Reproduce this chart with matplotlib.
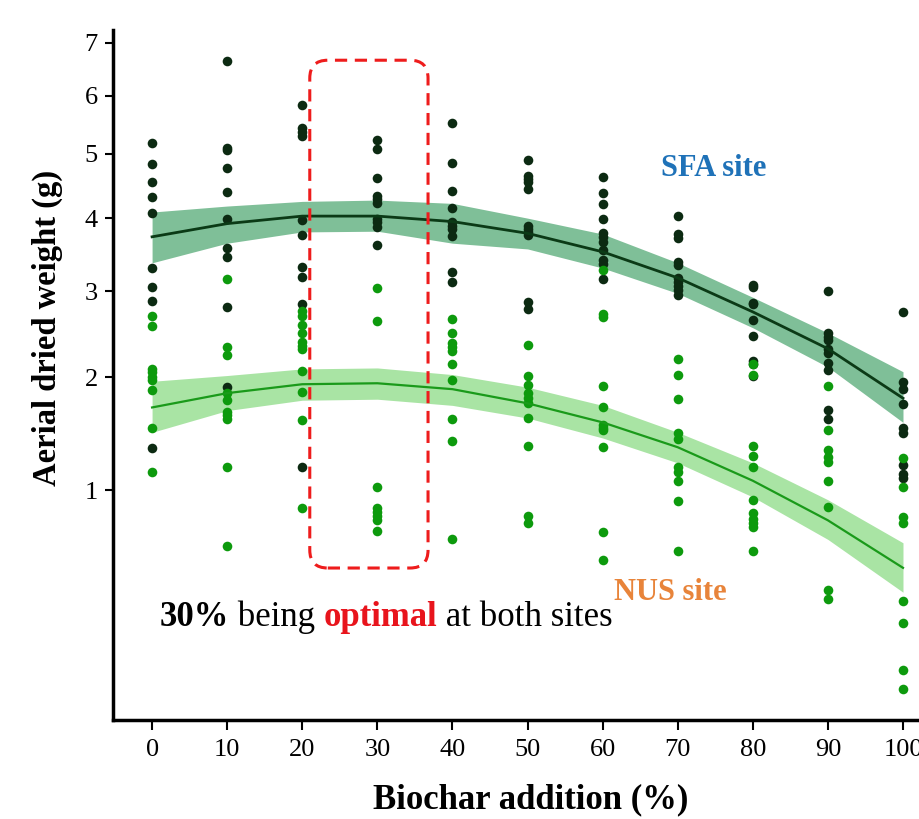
import numpy as np
import matplotlib
matplotlib.use("Agg")
import matplotlib.pyplot as plt
from matplotlib.patches import FancyBboxPatch
from matplotlib.transforms import IdentityTransform

plt.rcParams["font.family"] = ["Liberation Serif", "DejaVu Serif"]

# biochar levels (%)
levels = [0, 10, 20, 30, 40, 50, 60, 70, 80, 90, 100]

# observed dry weights (g), one list per level
sfa_pts = [
    [5.18, 4.83, 4.55, 4.31, 4.07, 3.30, 3.05, 2.88, 1.33],
    [6.64, 5.10, 5.06, 4.77, 4.39, 3.99, 3.57, 3.45, 2.80, 1.90],
    [5.83, 5.43, 5.36, 5.30, 3.97, 3.75, 3.31, 3.18, 2.84, 1.18],
    [5.23, 5.08, 4.61, 4.33, 4.28, 4.22, 3.99, 3.94, 3.87, 3.61],
    [5.52, 4.85, 4.41, 4.15, 3.94, 3.88, 3.84, 3.74, 3.25, 3.11],
    [4.90, 4.64, 4.59, 4.55, 4.44, 3.88, 3.84, 3.80, 3.75, 2.86, 2.77],
    [4.63, 4.38, 4.21, 3.99, 3.78, 3.73, 3.65, 3.54, 3.41, 3.35, 3.15],
    [4.03, 3.77, 3.71, 3.38, 3.34, 3.17, 3.11, 3.06, 3.01, 2.95],
    [3.08, 3.05, 2.85, 2.84, 2.64, 2.46, 2.17, 2.14, 2.01],
    [3.00, 2.49, 2.44, 2.41, 2.31, 2.26, 2.15, 2.08, 1.68, 1.59],
    [2.74, 1.95, 1.88, 1.73, 1.51, 1.46, 1.19, 1.12, 1.09],
]
nus_pts = [
    [2.69, 2.57, 2.09, 2.06, 2.00, 1.97, 1.87, 1.51, 1.14],
    [3.15, 2.33, 2.24, 1.84, 1.77, 1.66, 1.63, 1.59, 1.18, 0.63],
    [2.75, 2.69, 2.58, 2.49, 2.38, 2.34, 2.31, 2.07, 1.85, 1.58, 0.87],
    [3.04, 2.63, 1.02, 0.87, 0.845, 0.82, 0.79, 0.72],
    [2.66, 2.49, 2.37, 2.33, 2.29, 2.14, 1.97, 1.59, 1.39, 0.67],
    [2.35, 2.02, 1.92, 1.84, 1.79, 1.74, 1.60, 1.35, 0.82, 0.77],
    [3.27, 2.72, 2.68, 1.91, 1.70, 1.54, 1.51, 1.49, 1.34, 0.715, 0.55],
    [2.20, 2.03, 1.78, 1.46, 1.41, 1.18, 1.14, 1.07, 0.92, 0.60],
    [2.14, 2.03, 1.35, 1.27, 1.18, 0.93, 0.84, 0.80, 0.77, 0.75, 0.60],
    [1.91, 1.49, 1.32, 1.26, 1.22, 1.07, 0.88, 0.40, 0.36],
    [1.25, 1.02, 0.81, 0.77, 0.35, 0.26, 0.114, 0.072],
]

# fitted curves and confidence bands
sfa_fit = [3.73, 3.92, 4.03, 4.03, 3.95, 3.78, 3.52, 3.17, 2.74, 2.31, 1.79]
sfa_hi = [4.09, 4.18, 4.25, 4.27, 4.22, 4.00, 3.77, 3.37, 2.92, 2.49, 2.06]
sfa_lo = [3.37, 3.64, 3.80, 3.81, 3.64, 3.56, 3.30, 2.97, 2.55, 2.11, 1.56]
nus_fit = [1.70, 1.84, 1.93, 1.94, 1.88, 1.74, 1.56, 1.34, 1.07, 0.79, 0.51]
nus_hi = [1.96, 2.02, 2.09, 2.10, 2.03, 1.90, 1.72, 1.47, 1.21, 0.93, 0.65]
nus_lo = [1.47, 1.67, 1.77, 1.78, 1.72, 1.60, 1.42, 1.21, 0.95, 0.67, 0.39]

yticks = [1, 2, 3, 4, 5, 6, 7]

dark_pt = "#0c2a12"
green_pt = "#0d9a0d"

fig = plt.figure(figsize=(9.19, 8.19), dpi=100)
ax = fig.add_axes([0.123, 0.121, 0.880, 0.842])
ax.set_yscale("function", functions=(lambda v: np.sqrt(np.maximum(v, 0)), lambda s: s ** 2))

ax.fill_between(levels, nus_lo, nus_hi, color="#a9e4a4", lw=0, zorder=1)
ax.fill_between(levels, sfa_lo, sfa_hi, color="#7fbf98", lw=0, zorder=1)

for lv, ys in zip(levels, sfa_pts):
    ax.scatter([lv] * len(ys), ys, s=48, color=dark_pt, lw=0, zorder=3)
for lv, ys in zip(levels, nus_pts):
    ax.scatter([lv] * len(ys), ys, s=48, color=green_pt, lw=0, zorder=3)

ax.plot(levels, sfa_fit, color="#0b3a16", lw=2, zorder=4)
ax.plot(levels, nus_fit, color="#1a9a1a", lw=1.6, zorder=4)

ax.set_xlim(-5.2, 102.5)
ax.set_ylim(0.024, 7.24)
ax.set_xticks(levels)
ax.set_yticks(yticks)
ax.tick_params(axis="x", labelsize=19, length=7, width=1.5, pad=7)
ax.tick_params(axis="y", labelsize=19, length=6, width=1.5, pad=5)
for s in ["top", "right"]:
    ax.spines[s].set_visible(False)
for s in ["left", "bottom"]:
    ax.spines[s].set_linewidth(2.5)

fig.text(47 / 919, 1 - 328 / 819, "Aerial dried weight (g)", rotation=90,
         ha="center", va="center", fontsize=23.5, fontweight="bold")
fig.text(531 / 919, 1 - 800 / 819, "Biochar addition (%)",
         ha="center", va="center", fontsize=25, fontweight="bold")

ax.text(74.8, 4.77, "SFA site", ha="center", va="center", fontsize=22,
        fontweight="bold", color="#1f72b8")
ax.text(69.0, 0.39, "NUS site", ha="center", va="center", fontsize=22,
        fontweight="bold", color="#e8843a")

t1 = ax.text(1.0, 0.284, "30%", ha="left", va="center", fontsize=25, fontweight="bold")
t2 = ax.annotate(" being ", xy=(1, 0), xycoords=t1, ha="left", va="bottom", fontsize=25)
t3 = ax.annotate("optimal", xy=(1, 0), xycoords=t2, ha="left", va="bottom", fontsize=25,
                 fontweight="bold", color="#e8141c")
ax.annotate(" at both sites", xy=(1, 0), xycoords=t3, ha="left", va="bottom", fontsize=25)

# rounded dashed box around the 30% column, drawn in pixel space
p0 = ax.transData.transform((21.0, 0.509))
p1 = ax.transData.transform((36.75, 6.66))
box = FancyBboxPatch((p0[0], p0[1]), p1[0] - p0[0], p1[1] - p0[1],
                     boxstyle="round,pad=0,rounding_size=18",
                     transform=IdentityTransform(), fill=False,
                     edgecolor="#ee1c1c", lw=2.2, ls=(0, (4, 2.5)), zorder=6)
fig.add_artist(box)

fig.savefig("out.png", dpi=100)
